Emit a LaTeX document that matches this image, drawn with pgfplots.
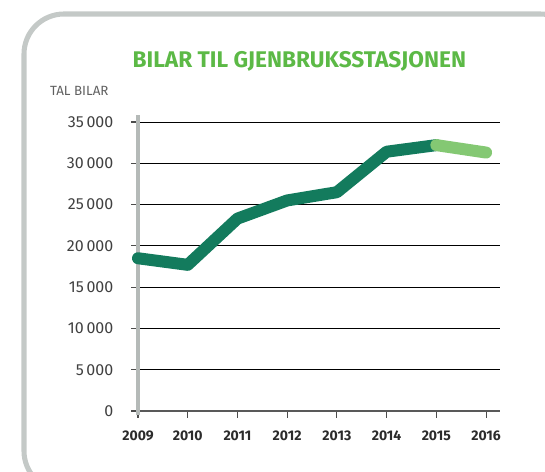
\documentclass[border=0pt]{standalone}
\usepackage{pgfplots}
\pgfplotsset{compat=1.18}
\usepackage{fontspec}
\setmainfont{Fira Sans}
\definecolor{frame}{HTML}{C4C9C7}
\definecolor{dkgreen}{HTML}{137B5D}
\definecolor{ltgreen}{HTML}{84C873}
\definecolor{titlegreen}{HTML}{5CB946}
\definecolor{axgray}{HTML}{B5BAB8}
\definecolor{txt}{HTML}{2B2B2B}
\begin{document}
\begin{tikzpicture}
\useasboundingbox (0,0) rectangle (408.75pt,353.25pt);
\begin{scope}
\clip (0,0) rectangle (408.75pt,353.25pt);
\draw[frame, line width=3.8pt, rounded corners=30pt] (18pt,-15pt) rectangle (435pt,342.75pt);
\end{scope}
\node[text=titlegreen, font=\bfseries\fontsize{17}{20}\selectfont] at (224.5pt,307.5pt) {BILAR TIL GJENBRUKSSTASJONEN};
\node[text=txt!75, font=\fontsize{10}{12}\selectfont, anchor=west] at (34pt,285pt) {TAL BILAR};
\begin{axis}[
  at={(103.5pt,45pt)}, anchor=south west,
  scale only axis, width=271.5pt, height=216.75pt,
  xmin=2009, xmax=2016.28, ymin=0, ymax=35000,
  axis x line*=bottom, axis y line*=left,
  x axis line style={black!65, line width=0.9pt, -},
  y axis line style={draw=none},
  xtick={2009,...,2016}, ytick={0,5000,...,35000},
  scaled y ticks=false,
  ymajorgrids, grid style={black, line width=0.7pt},
  tick align=outside, major tick length=5pt,
  tick style={black!70, line width=0.8pt},
  /pgf/number format/assume math mode=true,
  xticklabel style={font=\bfseries\fontsize{10.5}{12}\selectfont, text=txt, /pgf/number format/1000 sep={}},
  yticklabel style={font=\fontsize{12}{14}\selectfont, text=txt!90, /pgf/number format/1000 sep={\,}},
  yticklabel shift=10pt, xticklabel shift=6pt,
  clip=false,
]
\draw[axgray, line width=3pt] (rel axis cs:0,-0.015) -- (rel axis cs:0,1.025);
\addplot[dkgreen, line width=9pt, line cap=round, line join=round] coordinates {
(2009,18500) (2010,17700) (2011,23300) (2012,25500) (2013,26500) (2014,31400) (2015,32200)};
\addplot[ltgreen, line width=9pt, line cap=round, line join=round] coordinates {
(2015,32200) (2016,31300)};
\end{axis}
\end{tikzpicture}
\end{document}
